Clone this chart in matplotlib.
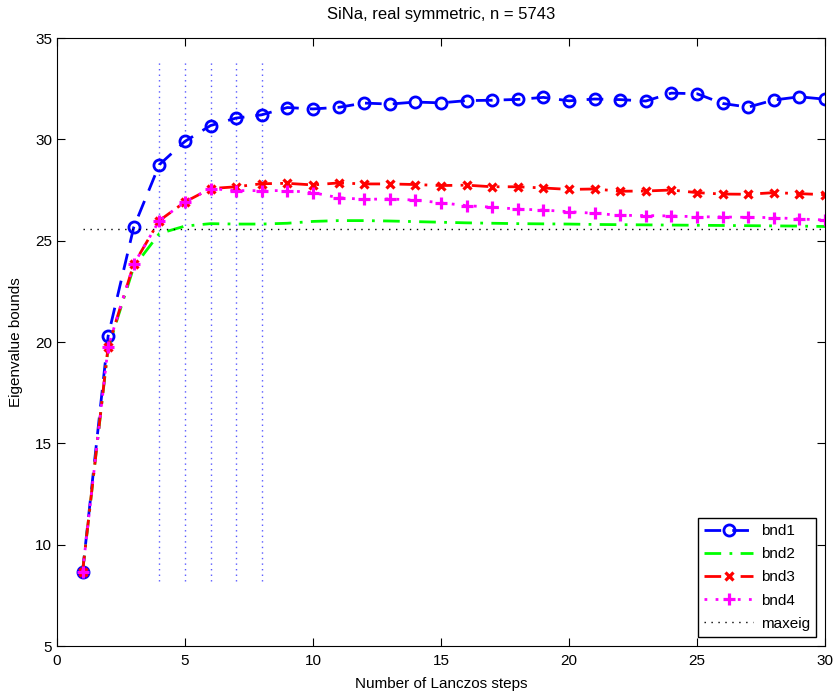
import matplotlib
matplotlib.use("Agg")
import matplotlib.pyplot as plt
import numpy as np

plt.rcParams['font.family'] = ['Liberation Sans', 'DejaVu Sans']

steps = list(range(1, 31))
bnd1 = [8.64, 20.30, 25.66, 28.75, 29.90, 30.68, 31.05, 31.21, 31.57, 31.50,
        31.58, 31.79, 31.74, 31.84, 31.80, 31.91, 31.93, 31.97, 32.07, 31.90,
        31.99, 31.96, 31.89, 32.28, 32.25, 31.77, 31.59, 31.94, 32.10, 31.98]
bnd2 = [8.64, 19.70, 23.70, 25.35, 25.72, 25.84, 25.82, 25.82, 25.86, 25.95,
        25.99, 25.99, 25.97, 25.94, 25.91, 25.88, 25.86, 25.84, 25.83, 25.82,
        25.80, 25.79, 25.78, 25.77, 25.76, 25.75, 25.74, 25.73, 25.72, 25.70]
bnd3 = [8.64, 19.77, 23.84, 25.99, 26.91, 27.57, 27.66, 27.81, 27.83, 27.75,
        27.85, 27.80, 27.80, 27.77, 27.72, 27.74, 27.66, 27.66, 27.60, 27.53,
        27.55, 27.44, 27.45, 27.50, 27.37, 27.30, 27.29, 27.37, 27.32, 27.27]
bnd4 = [8.64, 19.77, 23.84, 25.99, 26.91, 27.57, 27.47, 27.47, 27.47, 27.37,
        27.12, 27.04, 27.06, 27.00, 26.87, 26.73, 26.65, 26.56, 26.51, 26.43,
        26.35, 26.25, 26.24, 26.22, 26.18, 26.17, 26.15, 26.14, 26.07, 26.02]
maxeig = 25.6
vlines_x = [4, 5, 6, 7, 8]
vline_range = (8.2, 33.9)

fig = plt.figure(figsize=(8.37, 6.96), dpi=100)
ax = fig.add_axes([0.068, 0.0718, 0.9177, 0.8736])

for xv in vlines_x:
    ax.plot([xv, xv], vline_range, linestyle=(0, (1, 3)), color=(0.35, 0.35, 1.0), lw=1.0)

ax.plot(steps, bnd1, color='b', linestyle=(0, (6, 4)), lw=2, marker='o', ms=8,
        mfc='none', mew=2, label='bnd1')
ax.plot(steps, bnd2, color='#00ff00', linestyle=(0, (6, 3, 1, 3)), lw=2, label='bnd2')
ax.plot(steps, bnd3, color='r', linestyle=(0, (6, 3, 1, 3)), lw=2, marker='x', ms=6,
        mew=2.3, label='bnd3')
ax.plot(steps, bnd4, color='#ff00ff', linestyle=(0, (1, 3)), lw=2, marker='+', ms=8.5,
        mew=2.3, label='bnd4')
ax.plot([steps[0], steps[-1]], [maxeig, maxeig], color='k', linestyle=(0, (1, 4)), lw=1,
        label='maxeig')

ax.set_xlim(0, 30)
ax.set_ylim(5, 35)
ax.set_xticks(range(0, 31, 5))
ax.set_yticks(range(5, 36, 5))
ax.tick_params(direction='in', top=True, right=True, labelsize=11, length=6)
ax.tick_params(axis='x', pad=6)
ax.set_title('SiNa, real symmetric, n = 5743', fontsize=12, pad=14)
ax.set_xlabel('Number of Lanczos steps', fontsize=11, labelpad=6)
ax.set_ylabel('Eigenvalue bounds', fontsize=11, labelpad=9)

leg = ax.legend(loc='lower right', fontsize=11, frameon=True, fancybox=False,
                edgecolor='k', framealpha=1, handlelength=3.2, handletextpad=0.5,
                borderaxespad=0.6, labelspacing=0.6)
leg.get_frame().set_linewidth(1)

fig.savefig('out.png', dpi=100)
